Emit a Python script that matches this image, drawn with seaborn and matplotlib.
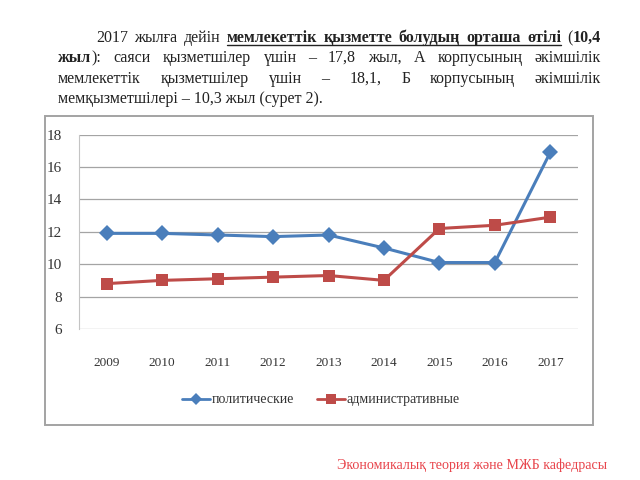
import matplotlib
matplotlib.use("Agg")
import matplotlib.pyplot as plt
import seaborn as sns
import pandas as pd
from matplotlib.lines import Line2D
from matplotlib.patches import Rectangle

# ---------------- data ----------------
years = [2009, 2010, 2011, 2012, 2013, 2014, 2015, 2016, 2017]
political = [11.9, 11.9, 11.8, 11.7, 11.8, 11.0, 10.1, 10.1, 16.9]
administrative = [8.8, 9.0, 9.1, 9.2, 9.3, 9.0, 12.2, 12.4, 12.9]
series_names = ["политические", "административные"]
y_ticks = [6, 8, 10, 12, 14, 16, 18]
x_labels = [str(y) for y in years]

footer = "Экономикалық теория және МЖБ кафедрасы"
# paragraph: each line is a list of tokens; each token is a list of runs (text, bold, underline)
para_lines = [
    [[("2017", 0, 0)], [("жылға", 0, 0)], [("дейін", 0, 0)],
     [("мемлекеттік", 1, 1)], [("қызметте", 1, 1)], [("болудың", 1, 1)],
     [("орташа", 1, 1)], [("өтілі", 1, 1)], [("(", 0, 0), ("10,4", 1, 0)]],
    [[("жыл", 1, 0), ("):", 0, 0)], [("саяси", 0, 0)], [("қызметшілер", 0, 0)],
     [("үшін", 0, 0)], [("–", 0, 0)], [("17,8", 0, 0)], [("жыл,", 0, 0)],
     [("А", 0, 0)], [("корпусының", 0, 0)], [("әкімшілік", 0, 0)]],
    [[("мемлекеттік", 0, 0)], [("қызметшілер", 0, 0)], [("үшін", 0, 0)],
     [("–", 0, 0)], [("18,1,", 0, 0)], [("Б", 0, 0)], [("корпусының", 0, 0)],
     [("әкімшілік", 0, 0)]],
    [[("мемқызметшілері – 10,3 жыл (сурет 2).", 0, 0)]],
]

blue = "#4a7ebb"
red = "#be4b48"

sns.set_theme(style="white")
plt.rcParams["font.family"] = ["Liberation Serif", "DejaVu Serif"]

W, H = 640, 480
fig = plt.figure(figsize=(6.4, 4.8), dpi=100)
fig.patch.set_facecolor("white")

# chart frame
fig.add_artist(Rectangle((45 / W, 55 / H), 548 / W, 309 / H, transform=fig.transFigure,
                         fill=False, edgecolor="#a3a3a3", lw=1.4))

ax = fig.add_axes([79 / W, 151 / H, 499 / W, 194.5 / H])
df = pd.DataFrame({
    "year": years * 2,
    "value": political + administrative,
    "series": [series_names[0]] * len(years) + [series_names[1]] * len(years),
})
sns.lineplot(data=df, x="year", y="value", hue="series", style="series",
             markers={series_names[0]: "D", series_names[1]: "s"}, dashes=False,
             palette={series_names[0]: blue, series_names[1]: red},
             linewidth=2.2, markersize=8, markeredgewidth=0, legend=False, ax=ax)

ax.set_xlim(years[0] - 0.5, years[-1] + 0.5)
ax.set_ylim(y_ticks[0], y_ticks[-1])
ax.set_yticks(y_ticks)
ax.set_xticks(years)
ax.set_xticklabels(x_labels)
ax.set_xlabel("")
ax.set_ylabel("")
ax.yaxis.grid(True, color="#a4a4a4", lw=0.9)
ax.xaxis.grid(False)
for s in ["top", "right", "bottom"]:
    ax.spines[s].set_visible(False)
ax.spines["left"].set_color("#c4c4c4")
ax.spines["left"].set_linewidth(0.8)
ax.tick_params(axis="y", length=3, labelsize=11, pad=9, colors="#333333")
ax.tick_params(axis="y", color="#c4c4c4")
ax.tick_params(axis="x", length=0, labelsize=9.5, pad=20, labelcolor="#333333")
ax.set_facecolor("white")

handles = [
    Line2D([], [], color=blue, marker="D", markersize=6, lw=2, markeredgewidth=0),
    Line2D([], [], color=red, marker="s", markersize=6.5, lw=2, markeredgewidth=0),
]
ax.legend(handles, series_names, loc="center", bbox_to_anchor=(0.485, -0.365), ncol=2,
          frameon=False, fontsize=10, handlelength=2.0, handletextpad=0.15,
          columnspacing=1.6, labelcolor="#333333")

# footer
fig.text(337 / W, 1 - 465 / H, footer, color="#e8454c", fontsize=10.1, va="center", ha="left")

# justified paragraph
renderer = fig.canvas.get_renderer()
FS = 11.5
line_y = [42, 62, 83, 103]  # baselines in px from top
line_left = [96, 58, 58, 58]
right_edge = 601


def make_token(token):
    arts = []
    for txt, b, u in token:
        t = fig.text(0, 0, txt, fontsize=FS, fontweight="bold" if b else "normal",
                     color="#222222", va="baseline", ha="left")
        w = t.get_window_extent(renderer).width
        arts.append((t, w, u))
    return arts


for li, line in enumerate(para_lines):
    toks = [make_token(tk) for tk in line]
    widths = [sum(w for _, w, _ in tk) for tk in toks]
    justify = li < len(para_lines) - 1 and len(toks) > 1
    if justify:
        gap = (right_edge - line_left[li] - sum(widths)) / (len(toks) - 1)
    else:
        gap = 4
    x = line_left[li]
    ul_start, ul_end = None, None
    for tk, tw in zip(toks, widths):
        xx = x
        for t, w, u in tk:
            t.set_position((xx / W, 1 - line_y[li] / H))
            if u:
                if ul_start is None:
                    ul_start = xx
                ul_end = xx + w
            xx += w
        x += tw + gap
    if ul_start is not None:
        yy = 1 - (line_y[li] + 3) / H
        fig.add_artist(Line2D([ul_start / W, ul_end / W], [yy, yy], transform=fig.transFigure,
                              color="#222222", lw=1.0))

fig.savefig("out.png", dpi=100, facecolor="white")
